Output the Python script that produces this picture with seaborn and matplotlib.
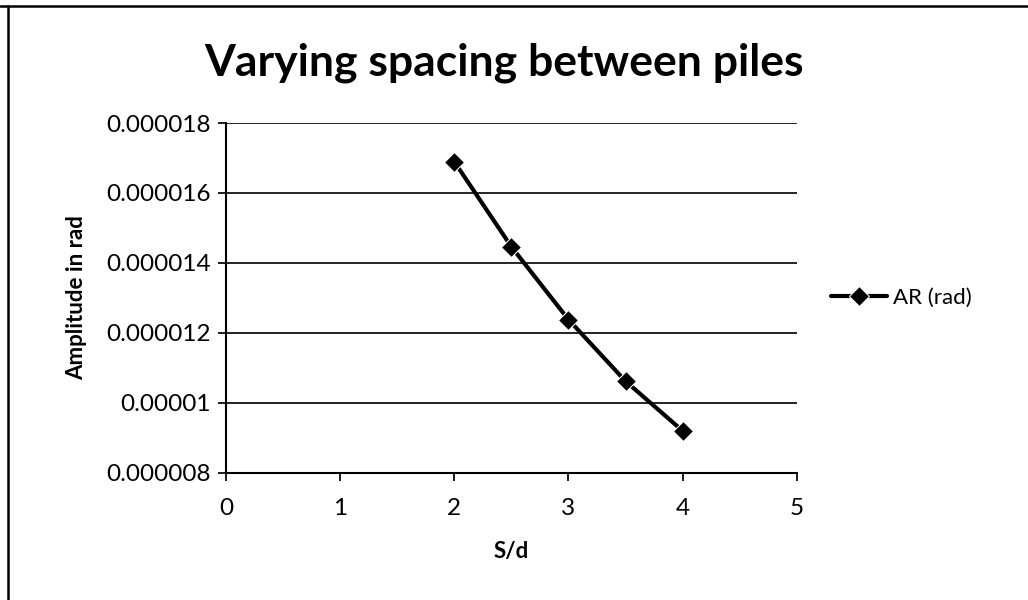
import matplotlib
matplotlib.use("Agg")
import matplotlib.pyplot as plt
import seaborn as sns
import pandas as pd
from matplotlib.ticker import FixedLocator, FixedFormatter
from matplotlib.lines import Line2D

title = "Varying spacing between piles"
x_label = "S/d"
y_label = "Amplitude in rad"
series_name = "AR (rad)"
s_over_d = [2.0, 2.5, 3.0, 3.5, 4.0]
amplitude = [0.00001689, 0.00001446, 0.00001238, 0.00001062, 0.0000092]
y_ticks = [0.000008, 0.00001, 0.000012, 0.000014, 0.000016, 0.000018]
y_tick_labels = ["0.000008", "0.00001", "0.000012", "0.000014", "0.000016", "0.000018"]
x_ticks = [0, 1, 2, 3, 4, 5]

sns.set_theme(style="white")
plt.rcParams["font.family"] = ["Lato", "DejaVu Sans"]
plt.rcParams["text.color"] = "black"
plt.rcParams["axes.labelcolor"] = "black"

df = pd.DataFrame({"S/d": s_over_d, "amp": amplitude, "series": series_name})

fig = plt.figure(figsize=(10.28, 6.0), dpi=100)
ax = fig.add_axes([0.22, 0.212, 0.555, 0.583])

sns.lineplot(data=df, x="S/d", y="amp", hue="series", palette=["black"],
             marker="D", markersize=10, linewidth=3, ax=ax, legend=True)

ax.set_xlim(0, 5)
ax.set_ylim(0.000008, 0.000018)
ax.yaxis.set_major_locator(FixedLocator(y_ticks))
ax.yaxis.set_major_formatter(FixedFormatter(y_tick_labels))
ax.set_xticks(x_ticks)
ax.set_xticklabels([str(v) for v in x_ticks])
ax.grid(axis="y", color="black", linewidth=1.2)
ax.grid(axis="x", visible=False)
for side in ["top", "right"]:
    ax.spines[side].set_visible(False)
for side in ["left", "bottom"]:
    ax.spines[side].set_color("black")
    ax.spines[side].set_linewidth(1.5)
ax.tick_params(axis="both", labelsize=17.5, colors="black", length=6, direction="out",
               left=True, bottom=True, pad=5)
ax.tick_params(axis="x", pad=12)
ax.set_xlabel(x_label, fontsize=16, fontweight="bold", labelpad=16)
ax.set_ylabel(y_label, fontsize=16, fontweight="bold", labelpad=14)
fig.text(0.49, 0.895, title, fontsize=32, fontweight="bold", ha="center", va="center")

leg = ax.legend(loc="center left", bbox_to_anchor=(1.025, 0.5), frameon=False,
                fontsize=16, handlelength=2.5, handletextpad=0.3)

# outer chart frame (top and left edges visible)
fig.add_artist(Line2D([0, 1], [0.99, 0.99], transform=fig.transFigure,
                      color="black", linewidth=1.8))
fig.add_artist(Line2D([0.008, 0.008], [0, 0.99], transform=fig.transFigure,
                      color="black", linewidth=1.8))

fig.savefig("out.png", dpi=100, facecolor="white")
